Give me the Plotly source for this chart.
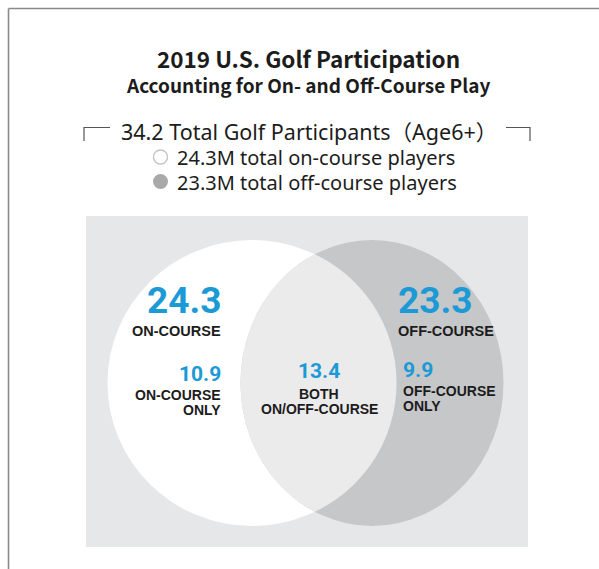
import numpy as np
import plotly.graph_objects as go

# --- data (millions of participants) ---
total_participants = 34.2
set_names = ["ON-COURSE", "OFF-COURSE"]
set_totals = [24.3, 23.3]
region_names = [["ON-COURSE", "ONLY"], ["BOTH", "ON/OFF-COURSE"], ["OFF-COURSE", "ONLY"]]
region_values = [10.9, 13.4, 9.9]
legend_labels = ["total on-course players", "total off-course players"]

W, H = 599, 569
BLUE = "#1b9ad6"
INK = "#1c1c1c"
HEAD_FONT = "Noto Sans CJK JP"
BODY_FONT = "Noto Sans, Noto Sans CJK JP"
LABEL_FONT = "Liberation Sans"
NUM_FONT = "Roboto"

# Venn geometry (pixel space, y downward)
L_CX, L_CY, L_RX, L_RY = 252, 383, 144.5, 143
R_CX, R_CY, R_RX, R_RY = 372, 383, 131.5, 143

fig = go.Figure()

shapes = []
# outer frame (left and top rules)
shapes.append(dict(type="line", x0=8.5, y0=8.5, x1=W + 2, y1=8.5,
                   line=dict(color="#8a8a8a", width=1.6)))
shapes.append(dict(type="line", x0=8.5, y0=8.5, x1=8.5, y1=H + 2,
                   line=dict(color="#8a8a8a", width=1.6)))

# bracket around the total headline
shapes.append(dict(type="path", path="M 84,141 L 84,127.5 L 110,127.5",
                   line=dict(color="#555555", width=1.2)))
shapes.append(dict(type="path", path="M 506,127.5 L 530,127.5 L 530,141",
                   line=dict(color="#555555", width=1.2)))

# legend dots
shapes.append(dict(type="circle", x0=153.5, y0=150, x1=167.5, y1=164,
                   line=dict(color="#c4c4c4", width=1.4), fillcolor="white"))
shapes.append(dict(type="circle", x0=153, y0=174, x1=168, y1=189,
                   line=dict(width=0), fillcolor="#a9a9a9"))

# panel background
shapes.append(dict(type="rect", x0=86, y0=216, x1=528, y1=547,
                   line=dict(width=0), fillcolor="#e6e7e9", layer="below"))
# on-course set
shapes.append(dict(type="circle", x0=L_CX - L_RX, y0=L_CY - L_RY,
                   x1=L_CX + L_RX, y1=L_CY + L_RY,
                   line=dict(width=0), fillcolor="#ffffff", layer="below"))
# off-course set
shapes.append(dict(type="circle", x0=R_CX - R_RX, y0=R_CY - R_RY,
                   x1=R_CX + R_RX, y1=R_CY + R_RY,
                   line=dict(width=0), fillcolor="#c6c7c9", layer="below"))

# overlap lens: intersection of the two ellipses
t = np.linspace(0, 2 * np.pi, 2000)
lx = R_CX + R_RX * np.cos(t)
ly = R_CY + R_RY * np.sin(t)
in_left = ((lx - L_CX) / L_RX) ** 2 + ((ly - L_CY) / L_RY) ** 2 <= 1
rx = L_CX + L_RX * np.cos(t)
ry = L_CY + L_RY * np.sin(t)
in_right = ((rx - R_CX) / R_RX) ** 2 + ((ry - R_CY) / R_RY) ** 2 <= 1
pts = list(zip(lx[in_left], ly[in_left])) + list(zip(rx[in_right], ry[in_right]))
cx0 = np.mean([p[0] for p in pts]); cy0 = np.mean([p[1] for p in pts])
pts.sort(key=lambda p: np.arctan2(p[1] - cy0, p[0] - cx0))
lens = "M " + " L ".join(f"{x:.2f},{y:.2f}" for x, y in pts) + " Z"
shapes.append(dict(type="path", path=lens, line=dict(width=0),
                   fillcolor="#ebebec", layer="below"))

ann = []


def txt(x, y, s, size, color=INK, family=HEAD_FONT, weight="normal",
        xanchor="center", align="center"):
    ann.append(dict(x=x, y=y, text=s, showarrow=False, xanchor=xanchor,
                    yanchor="middle", align=align,
                    font=dict(size=size, color=color, family=family, weight=weight)))


# headings
txt(308, 58, "2019 U.S. Golf Participation", 22.5, weight="bold")
txt(308, 84, "Accounting for On- and Off-Course Play", 19, weight="bold")
txt(309, 131, f"{total_participants} Total Golf Participants\uff08Age6+\uff09", 21.5,
    family=BODY_FONT)
txt(175, 157, f"{set_totals[0]}M {legend_labels[0]}", 20, family=BODY_FONT,
    xanchor="left", align="left")
txt(175, 182, f"{set_totals[1]}M {legend_labels[1]}", 20, family=BODY_FONT,
    xanchor="left", align="left")

# set totals
txt(223, 300, f"{set_totals[0]}", 37, color=BLUE, family=NUM_FONT, weight="bold",
    xanchor="right", align="right")
txt(223, 331, set_names[0], 14.5, family=LABEL_FONT, weight="bold",
    xanchor="right", align="right")
txt(396, 300, f"{set_totals[1]}", 37, color=BLUE, family=NUM_FONT, weight="bold",
    xanchor="left", align="left")
txt(396, 331, set_names[1], 14.5, family=LABEL_FONT, weight="bold",
    xanchor="left", align="left")

# region values and their two-line labels
region_x = [223, 319, 401]
region_anchor = ["right", "center", "left"]
region_num_y = [374, 371, 370]
region_line_y = [[395, 410], [394, 409], [391, 406]]
for i in range(3):
    txt(region_x[i], region_num_y[i], f"{region_values[i]}", 21, color=BLUE,
        family=NUM_FONT, weight="bold", xanchor=region_anchor[i], align=region_anchor[i])
    for line, ly_ in zip(region_names[i], region_line_y[i]):
        txt(region_x[i], ly_, line, 14, family=LABEL_FONT, weight="bold",
            xanchor=region_anchor[i], align=region_anchor[i])

fig.update_layout(
    width=W, height=H,
    margin=dict(l=0, r=0, t=0, b=0),
    paper_bgcolor="white", plot_bgcolor="white",
    xaxis=dict(range=[0, W], visible=False, fixedrange=True),
    yaxis=dict(range=[H, 0], visible=False, fixedrange=True),
    shapes=shapes, annotations=ann, showlegend=False,
)

fig.write_html("out.html", config={"displayModeBar": False})
